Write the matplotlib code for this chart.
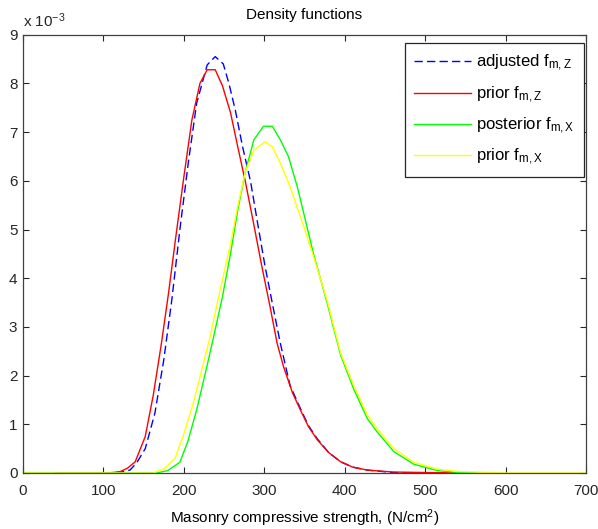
import numpy as np
import matplotlib
matplotlib.use("Agg")
import matplotlib.pyplot as plt

plt.rcParams["font.family"] = ["Liberation Sans", "DejaVu Sans"]
plt.rcParams["mathtext.fontset"] = "custom"
plt.rcParams["mathtext.rm"] = "Liberation Sans"
plt.rcParams["mathtext.it"] = "Liberation Sans"

# density values are in units of 1e-3
adj_z_x = [100, 120, 133, 141, 152, 164, 175, 185, 195.5, 206, 216, 229, 239, 249,
           256, 264, 273, 283, 292, 301, 311, 320, 332, 345, 355, 366, 380, 395,
           410, 428, 460, 480]
adj_z_y = [0, 0.01, 0.06, 0.2, 0.5, 1.23, 2.32, 3.55, 5.06, 6.43, 7.6, 8.38, 8.55, 8.4,
           8.0, 7.45, 6.7, 5.98, 5.1, 4.24, 3.4, 2.66, 1.8, 1.32, 0.97, 0.7, 0.42, 0.23,
           0.12, 0.06, 0.01, 0]

prior_z_x = [40, 100, 112, 121, 130, 139.5, 152, 162, 172, 181, 190, 200, 210, 220,
             229, 239, 248, 258, 267, 276.5, 287, 297, 307, 316, 324, 335, 345, 355,
             366, 380, 395, 410, 428, 460, 500, 560]
prior_z_y = [0, 0, 0.01, 0.03, 0.1, 0.23, 0.75, 1.6, 2.65, 3.7, 4.85, 6.08, 7.25, 8.0,
             8.28, 8.28, 7.95, 7.4, 6.7, 5.98, 5.1, 4.24, 3.43, 2.66, 2.18, 1.65, 1.29,
             0.95, 0.68, 0.42, 0.23, 0.12, 0.06, 0.02, 0.01, 0]

post_x_x = [0, 166, 180, 195, 205, 216, 226, 236, 248, 258, 267, 276.5, 287, 299, 310,
            320, 330, 341, 351, 361, 378, 395, 411, 428, 440, 461, 486, 515, 541, 575]
post_x_y = [0, 0, 0.05, 0.22, 0.65, 1.3, 2.0, 2.72, 3.62, 4.5, 5.4, 6.19, 6.84, 7.12,
            7.12, 6.84, 6.5, 5.88, 5.2, 4.51, 3.5, 2.42, 1.73, 1.12, 0.85, 0.44, 0.18,
            0.05, 0.01, 0]

prior_x_x = [0, 162, 175, 189, 200, 212, 222, 232, 245, 258, 266, 276.5, 287, 301, 310,
             320, 332, 345, 360, 378, 395, 411, 428, 440, 461, 486, 515, 541, 600, 700]
prior_x_y = [0, 0, 0.08, 0.3, 0.8, 1.45, 2.1, 2.75, 3.75, 4.7, 5.4, 6.19, 6.63, 6.80,
             6.7, 6.36, 5.88, 5.26, 4.51, 3.55, 2.46, 1.8, 1.2, 0.92, 0.5, 0.22, 0.08,
             0.03, 0, 0]

x_ticks = [0, 100, 200, 300, 400, 500, 600, 700]
y_ticks = [0, 1, 2, 3, 4, 5, 6, 7, 8, 9]

fig = plt.figure(figsize=(5.98, 5.29), dpi=100)
ax = fig.add_axes([23 / 598, 1 - 473 / 529, 563 / 598, 438.3 / 529])

ax.plot(adj_z_x, adj_z_y, color="#0000ff", lw=1.0, dashes=(6, 3),
        label=r"adjusted f$_{\mathrm{m,Z}}$")
ax.plot(prior_z_x, prior_z_y, color="#ff0000", lw=1.0,
        label=r"prior f$_{\mathrm{m,Z}}$")
ax.plot(post_x_x, post_x_y, color="#00ff00", lw=1.0,
        label=r"posterior f$_{\mathrm{m,X}}$")
ax.plot(prior_x_x, prior_x_y, color="#ffff00", lw=1.0,
        label=r"prior f$_{\mathrm{m,X}}$")

ax.set_xlim(0, 700)
ax.set_ylim(0, 9)
ax.set_xticks(x_ticks)
ax.set_yticks(y_ticks)
ax.tick_params(direction="in", length=4, width=0.8, top=True, right=True,
               labelsize=11, colors="#262626")
ax.tick_params(axis="x", pad=8)
ax.tick_params(axis="y", pad=4)
for sp in ax.spines.values():
    sp.set_color("#404040")
    sp.set_linewidth(0.9)

ax.set_title("Density functions", fontsize=11, pad=11)
ax.set_xlabel(r"Masonry compressive strength, (N/cm$^{2}$)", fontsize=11, labelpad=7)
ax.text(0.0, 1.018, r"x 10$^{\mathrm{-3}}$", transform=ax.transAxes, fontsize=11,
        ha="left", va="baseline", color="#262626")

leg = ax.legend(loc="upper right", bbox_to_anchor=(1 - 2 / 563, 1 - 8.6 / 438),
                borderaxespad=0, fancybox=False, edgecolor="#262626", framealpha=1,
                fontsize=12, labelspacing=0.66, handlelength=3.4, handletextpad=0.3,
                borderpad=0.58)
leg.get_frame().set_linewidth(0.9)

fig.savefig("out.png", dpi=100, facecolor="white")
